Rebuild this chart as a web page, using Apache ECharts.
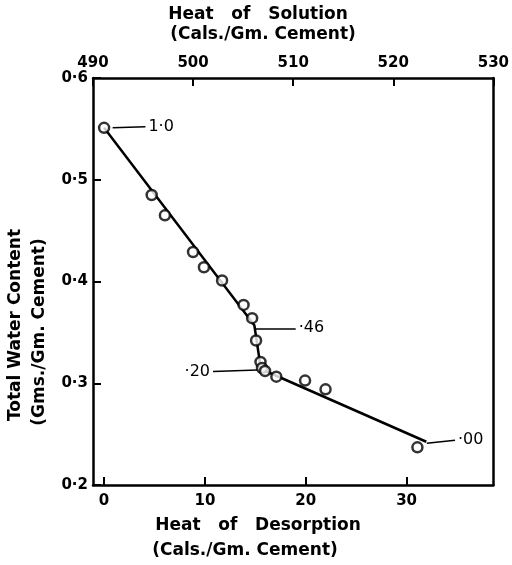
<!DOCTYPE html>
<html>
<head>
<meta charset="utf-8">
<script src="https://cdn.jsdelivr.net/npm/echarts@6/dist/echarts.min.js"></script>
<style>
  html, body { margin: 0; padding: 0; background: #fff; }
  #app { width: 512px; height: 565px; }
</style>
</head>
<body>
<div id="app"></div>
<script>
// heat of desorption (bottom axis) vs total water content
const desorption = [0, 4.72, 6.03, 8.82, 9.9, 11.7, 13.83, 14.68, 15.07, 15.51, 15.66, 15.96, 17.08, 19.93, 21.96, 31.07]
const waterContent = [0.551, 0.485, 0.465, 0.429, 0.414, 0.401, 0.377, 0.364, 0.342, 0.321, 0.315, 0.312, 0.3065, 0.3026, 0.294, 0.237]

// drawn fit line (three straight pieces)
const fitX = [0, 14.9, 15.55, 31.95]
const fitY = [0.551, 0.357, 0.314, 0.2425]

// labels with their leader lines: [x, y] from -> to
const noteText = ['1·0', '·46', '·20', '·00']
const noteFrom = [[0.85, 0.551], [14.95, 0.354], [15.2, 0.313], [32.0, 0.241]]
const noteTo = [[4.1, 0.552], [19.0, 0.354], [10.8, 0.3115], [34.8, 0.244]]

const bottomTicks = [0, 10, 20, 30]

const ink = '#000'
const font = 'DejaVu Sans'
const chart = echarts.init(document.getElementById('app'))

const axisBase = {
  axisLine: { show: true, onZero: false, lineStyle: { color: ink, width: 2.5 } },
  axisTick: { show: true, inside: true, length: 8, lineStyle: { color: ink, width: 2 } },
  splitLine: { show: false },
  axisLabel: { color: ink, fontFamily: font, fontSize: 15, fontWeight: 'bold' }
}

const titleFont = 'bold 17px "DejaVu Sans"'

function title(text, x, y, rotate) {
  return {
    type: 'text', x, y, rotation: rotate ? Math.PI / 2 : 0,
    style: { text, font: titleFont, fill: ink, align: 'center', verticalAlign: 'middle' }
  }
}

chart.setOption({
  animation: false,
  backgroundColor: '#fff',
  grid: { left: 93, right: 14, top: 78, bottom: 80 },
  xAxis: [
    {
      ...axisBase,
      type: 'value',
      position: 'bottom',
      min: -1.1,
      max: 38.6,
      axisTick: { ...axisBase.axisTick, customValues: bottomTicks },
      axisLabel: { ...axisBase.axisLabel, margin: 9, customValues: bottomTicks }
    },
    {
      ...axisBase,
      type: 'value',
      position: 'top',
      min: 490,
      max: 530,
      interval: 10,
      axisLabel: { ...axisBase.axisLabel, margin: 7 }
    }
  ],
  yAxis: [
    {
      ...axisBase,
      type: 'value',
      position: 'left',
      min: 0.2,
      max: 0.6,
      interval: 0.1,
      axisLabel: {
        ...axisBase.axisLabel,
        margin: 5,
        formatter: v => v.toFixed(1).replace('.', '·')
      }
    },
    {
      type: 'value',
      position: 'right',
      min: 0.2,
      max: 0.6,
      axisLine: { show: true, onZero: false, lineStyle: { color: ink, width: 2.5 } },
      axisTick: { show: false },
      axisLabel: { show: false },
      splitLine: { show: false }
    }
  ],
  graphic: [
    title('Heat   of   Solution', 258, 15),
    title('(Cals./Gm. Cement)', 263, 35),
    title('Heat   of   Desorption', 258, 526),
    title('(Cals./Gm. Cement)', 245, 551),
    title('Total Water Content', 16, 325, true),
    title('(Gms./Gm. Cement)', 40, 332, true)
  ],
  series: [
    {
      type: 'line',
      xAxisIndex: 0,
      yAxisIndex: 0,
      data: fitX.map((x, i) => [x, fitY[i]]),
      symbol: 'none',
      lineStyle: { color: ink, width: 2.5 },
      z: 2,
      markLine: {
        silent: true,
        symbol: 'none',
        lineStyle: { color: ink, width: 1.5, type: 'solid' },
        label: {
          show: true,
          position: 'end',
          distance: 3,
          color: ink,
          fontFamily: font,
          fontSize: 16,
          formatter: p => p.name
        },
        data: noteText.map((t, i) => [
          { name: t, coord: noteFrom[i] },
          { coord: noteTo[i] }
        ])
      }
    },
    {
      type: 'scatter',
      xAxisIndex: 0,
      yAxisIndex: 0,
      data: desorption.map((x, i) => [x, waterContent[i]]),
      symbol: 'circle',
      symbolSize: 10,
      itemStyle: { color: '#fff', borderColor: ink, borderWidth: 2.5 },
      z: 3
    }
  ]
})
</script>
</body>
</html>
